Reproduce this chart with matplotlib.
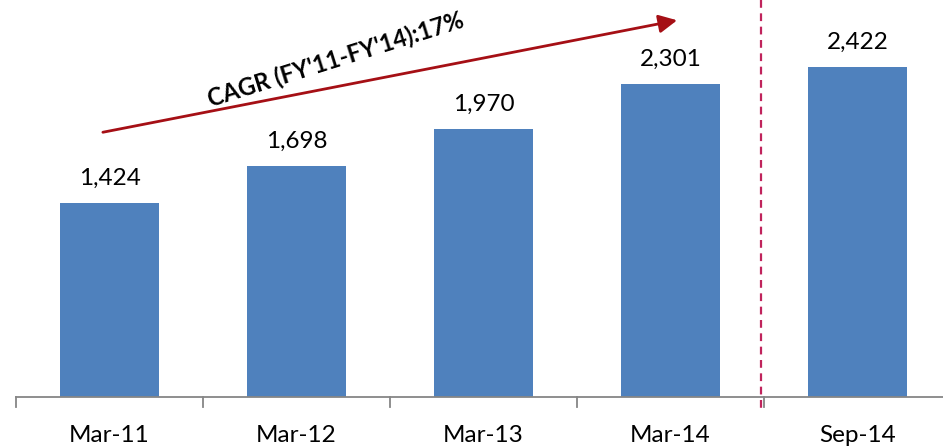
import matplotlib.pyplot as plt

periods = ['Mar-11', 'Mar-12', 'Mar-13', 'Mar-14', 'Sep-14']
values = [1424, 1698, 1970, 2301, 2422]
cagr_text = "CAGR (FY'11-FY'14):17%"

plt.rcParams['font.family'] = ['Lato', 'DejaVu Sans']

fig = plt.figure(figsize=(9.43, 4.47), dpi=100)
ax = fig.add_axes([16 / 943, 50 / 447, 927 / 943, 397 / 447])

x = list(range(len(values)))
ax.bar(x, values, width=0.53, color='#4F81BD', zorder=2)

for xi, v in zip(x, values):
    ax.annotate(f'{v:,}', (xi, v), xytext=(0, 10), textcoords='offset points',
                ha='center', va='bottom', fontsize=17.5, color='black')

ax.set_xlim(-0.5, -0.5 + 927 / 187)
ax.set_ylim(0, 2915)

for s in ['top', 'right', 'left']:
    ax.spines[s].set_visible(False)
ax.spines['bottom'].set_color('#868686')
ax.spines['bottom'].set_linewidth(1.3)
ax.set_yticks([])

# category labels centred, tick marks between categories
ax.set_xticks(x)
ax.set_xticklabels(periods, fontsize=17.5)
ax.tick_params(axis='x', length=0, pad=20)
for b in [-0.5, 0.5, 1.5, 2.5, 3.5]:
    ax.plot([b, b], [0, -70], color='#868686', lw=1.3, clip_on=False)

# separator between annual and half-year figure
ax.plot([3.485, 3.485], [2915, -85], color='#C0245C', lw=1.6,
        ls=(0, (3.5, 2.5)), clip_on=False, zorder=3)

# growth arrow
ax.annotate('', xy=(3.05, 2770), xytext=(-0.05, 1940),
            arrowprops=dict(arrowstyle='-|>,head_length=1.1,head_width=0.55',
                            color='#A50F15', lw=2))
ax.text(1.21, 2480, cagr_text, rotation=17.5, ha='center', va='center',
        fontsize=17, fontweight='bold', color='black')

fig.savefig('out.png', dpi=100)
